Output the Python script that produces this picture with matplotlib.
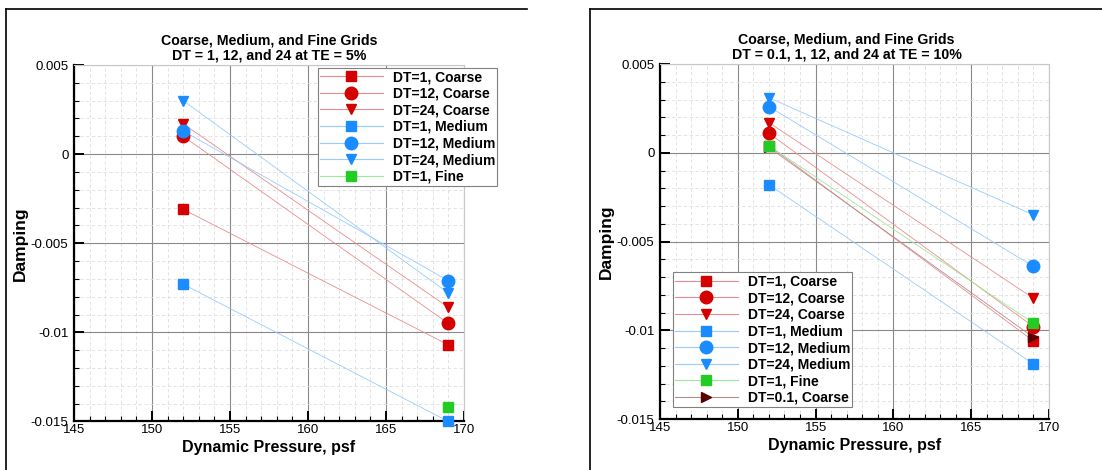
import matplotlib
matplotlib.use("Agg")
import matplotlib.pyplot as plt
import numpy as np
from matplotlib.lines import Line2D
from matplotlib.colors import to_rgb

plt.rcParams['font.family'] = ['Liberation Sans', 'DejaVu Sans']

# dynamic pressure stations (psf)
q = [152, 169]

# TE = 5% case
left_labels = ["DT=1, Coarse", "DT=12, Coarse", "DT=24, Coarse",
               "DT=1, Medium", "DT=12, Medium", "DT=24, Medium", "DT=1, Fine"]
left_vals = [
    [-0.0031, -0.0107],
    [0.0010, -0.0095],
    [0.0017, -0.0086],
    [-0.0073, -0.0150],
    [0.0013, -0.0071],
    [0.0030, -0.0078],
    [np.nan, -0.0142],
]

# TE = 10% case
right_labels = ["DT=1, Coarse", "DT=12, Coarse", "DT=24, Coarse",
                "DT=1, Medium", "DT=12, Medium", "DT=24, Medium", "DT=1, Fine",
                "DT=0.1, Coarse"]
right_vals = [
    [0.0004, -0.0106],
    [0.0011, -0.0098],
    [0.0017, -0.0082],
    [-0.0018, -0.0119],
    [0.0026, -0.0064],
    [0.0031, -0.0035],
    [0.0004, -0.0096],
    [0.0003, -0.0104],
]

red = "#d40000"
blue = "#1a8cff"
green = "#22cc22"
dark = "#5a0000"
styles = [
    (red, "s", 6.5), (red, "o", 9), (red, "v", 7.5),
    (blue, "s", 6.5), (blue, "o", 9), (blue, "v", 7.5),
    (green, "s", 6.5), (dark, ">", 7.5),
]
# drawing order of the series (the dark-red one sits just above the red squares)
zorders = [2.0, 2.3, 2.4, 2.5, 2.6, 2.7, 2.8, 2.1]


def pale(c, f=0.55):
    r = np.array(to_rgb(c))
    return tuple(r + (1 - r) * f)


def draw_panel(ax, labels, vals, title, tx):
    for lab, v, (c, m, ms), z in zip(labels, vals, styles, zorders):
        ax.plot(q, v, color=pale(c), lw=0.6, zorder=z)
        ax.plot(q, v, ls="none", marker=m, ms=ms, color=c, mec=c, zorder=z + 1,
                clip_on=False)
        ax.plot([], [], color=pale(c), lw=0.8, marker=m, ms=ms, mfc=c, mec=c, label=lab)
    ax.set_xlim(145, 170)
    ax.set_ylim(-0.015, 0.005)
    ax.set_xticks(np.arange(145, 171, 5))
    ax.set_yticks([-0.015, -0.01, -0.005, 0, 0.005])
    ax.set_yticklabels(["-0.015", "-0.01", "-0.005", "0", "0.005"])
    ax.set_xticks(np.arange(145, 171, 1), minor=True)
    ax.set_yticks(np.arange(-0.015, 0.0051, 0.001), minor=True)
    ax.grid(which="major", color="#8a8a8a", lw=0.8)
    ax.grid(which="minor", color="#dedede", lw=0.6, ls=(0, (4, 3)))
    ax.set_axisbelow(True)
    for s in ["left", "bottom"]:
        ax.spines[s].set_linewidth(1.6)
    for s in ["top", "right"]:
        ax.spines[s].set_color("#c8c8c8")
        ax.spines[s].set_linewidth(0.8)
    ax.tick_params(axis="y", which="major", pad=4)
    ax.tick_params(axis="x", which="major", pad=2)
    ax.tick_params(which="major", direction="in", length=7, width=1.4,
                   labelsize=9.5, top=False, right=False)
    ax.tick_params(which="minor", direction="in", length=3.5, width=0.8,
                   top=False, right=False)
    ax.set_xlabel("Dynamic Pressure, psf", fontsize=11.5, fontweight="bold", labelpad=3)
    ax.set_ylabel("Damping", fontsize=12.5, fontweight="bold", labelpad=2)
    ax.set_title(title, fontsize=10.2, fontweight="bold", linespacing=1.05, pad=4)
    ax.title.set_x(tx)


fig = plt.figure(figsize=(11.02, 4.70), dpi=100)
ax1 = fig.add_axes([0.06715, 0.1032, 0.3539, 0.7585])
ax2 = fig.add_axes([0.5989, 0.1085, 0.3530, 0.7553])

draw_panel(ax1, left_labels, left_vals,
           "Coarse, Medium, and Fine Grids\nDT = 1, 12, and 24 at TE = 5%", 0.5)
draw_panel(ax2, right_labels, right_vals,
           "Coarse, Medium, and Fine Grids\nDT = 0.1, 1, 12, and 24 at TE = 10%", 0.48)

leg_kw = dict(prop={"weight": "bold", "size": 10}, fancybox=False,
              edgecolor="#808080", framealpha=1, borderaxespad=0,
              handlelength=4.5, handletextpad=0.72, labelspacing=0.19,
              borderpad=0.15, numpoints=1)
l1 = ax1.legend(loc="upper left", bbox_to_anchor=(0.6256, 0.9916), **leg_kw)
l2 = ax2.legend(loc="lower left", bbox_to_anchor=(0.0334, 0.0338), **leg_kw)
for leg in (l1, l2):
    leg.get_frame().set_linewidth(0.8)
    leg.set_zorder(5)

# panel frames
W, H = 1102, 470
for x0, x1 in [(6, 527), (590, 1102)]:
    fig.add_artist(Line2D([x0 / W, x1 / W], [1 - 9 / H, 1 - 9 / H], color="black", lw=1.2))
    fig.add_artist(Line2D([x0 / W, x0 / W], [1 - 9 / H, 0], color="black", lw=1.2))

fig.savefig("out.png", dpi=100)
